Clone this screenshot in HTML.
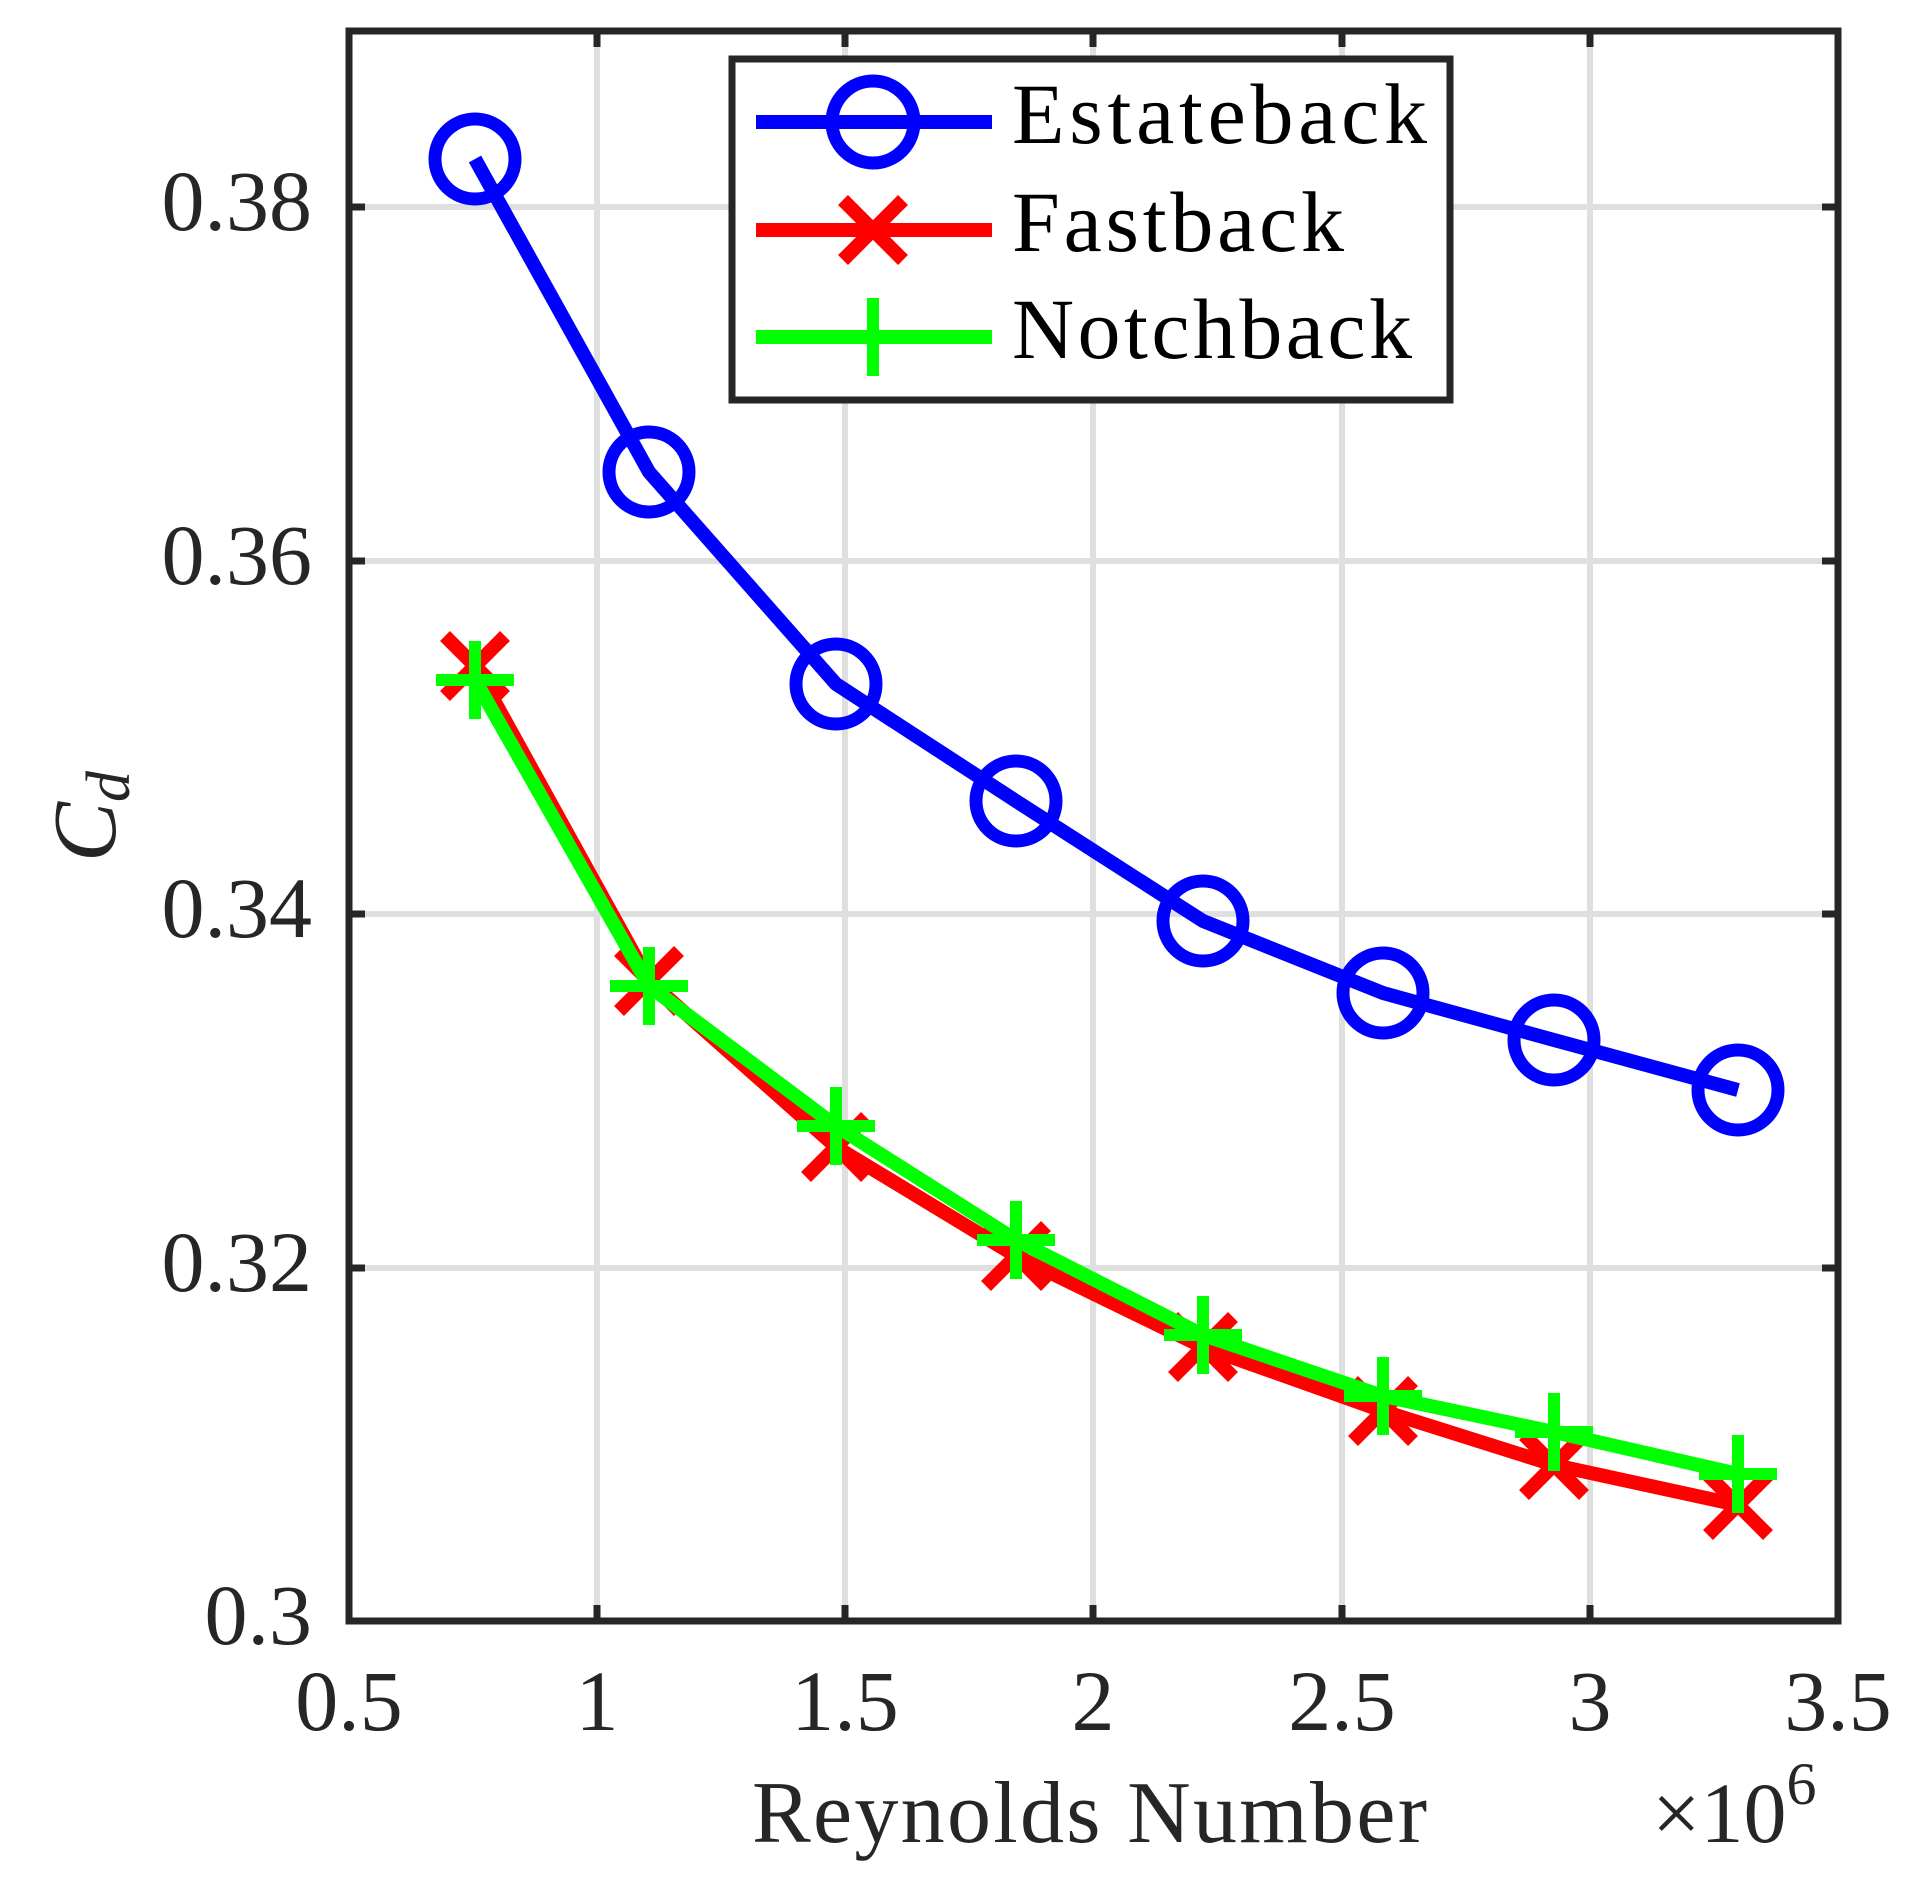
<!DOCTYPE html>
<html><head><meta charset="utf-8"><style>html,body{margin:0;padding:0;background:#fff}svg{display:block}</style></head>
<body>
<svg width="1919" height="1901" viewBox="0 0 1919 1901" xmlns="http://www.w3.org/2000/svg" font-family="Liberation Serif, serif" fill="#262626">
<defs>
<g id="cx"><path d="M-30,-30L30,30M-30,30L30,-30" stroke="#ff0000" stroke-width="14" fill="none"/></g>
<g id="pl"><path d="M-39,0H39M0,-39V39" stroke="#00ff00" stroke-width="12" fill="none"/></g>
</defs>
<g stroke="#dfdfdf" stroke-width="6">
<path d="M597,31V1621M845,31V1621M1093,31V1621M1342,31V1621M1590,31V1621"/>
<path d="M349,207H1838M349,561H1838M349,914H1838M349,1268H1838"/>
</g>
<g stroke="#262626" stroke-width="7" fill="none">
<rect x="349" y="31" width="1489" height="1590"/>
<path d="M597,1621v-16M845,1621v-16M1093,1621v-16M1342,1621v-16M1590,1621v-16M597,31v16M845,31v16M1093,31v16M1342,31v16M1590,31v16"/>
<path d="M349,207h16M349,561h16M349,914h16M349,1268h16M1838,207h-16M1838,561h-16M1838,914h-16M1838,1268h-16"/>
</g>
<g font-size="86" text-anchor="end">
<text x="312" y="230">0.38</text>
<text x="312" y="584">0.36</text>
<text x="312" y="937">0.34</text>
<text x="312" y="1291">0.32</text>
<text x="312" y="1644">0.3</text>
</g>
<g font-size="86" text-anchor="middle">
<text x="349" y="1730">0.5</text>
<text x="597" y="1730">1</text>
<text x="845" y="1730">1.5</text>
<text x="1093" y="1730">2</text>
<text x="1342" y="1730">2.5</text>
<text x="1590" y="1730">3</text>
<text x="1838" y="1730">3.5</text>
</g>
<text x="752" y="1842" font-size="88" textLength="675">Reynolds Number</text>
<text x="1652" y="1842" font-size="86">×10<tspan font-size="60" dy="-38">6</tspan></text>
<text transform="translate(115,862) rotate(-90)" font-size="90" font-style="italic">C<tspan font-size="62" dy="14">d</tspan></text>
<polyline fill="none" stroke="#ff0000" stroke-width="14" stroke-linejoin="round" points="475,666 649,981 836,1147 1016,1256 1203,1347 1383,1411 1554,1465 1738,1505"/>
<g><use href="#cx" x="475" y="666"/><use href="#cx" x="649" y="981"/><use href="#cx" x="836" y="1147"/><use href="#cx" x="1016" y="1256"/><use href="#cx" x="1203" y="1347"/><use href="#cx" x="1383" y="1411"/><use href="#cx" x="1554" y="1465"/><use href="#cx" x="1738" y="1505"/></g>
<polyline fill="none" stroke="#00ff00" stroke-width="14" stroke-linejoin="round" points="475,680 649,986 836,1126 1016,1240 1203,1335 1383,1396 1554,1432 1738,1474"/>
<g><use href="#pl" x="475" y="680"/><use href="#pl" x="649" y="986"/><use href="#pl" x="836" y="1126"/><use href="#pl" x="1016" y="1240"/><use href="#pl" x="1203" y="1335"/><use href="#pl" x="1383" y="1396"/><use href="#pl" x="1554" y="1432"/><use href="#pl" x="1738" y="1474"/></g>
<polyline fill="none" stroke="#0000ff" stroke-width="14" stroke-linejoin="round" points="475,159 649,472 836,684 1016,801 1203,921 1383,993 1554,1040 1738,1090"/>
<g fill="none" stroke="#0000ff" stroke-width="13">
<circle cx="475" cy="159" r="40"/><circle cx="649" cy="472" r="40"/><circle cx="836" cy="684" r="40"/><circle cx="1016" cy="801" r="40"/><circle cx="1203" cy="921" r="40"/><circle cx="1383" cy="993" r="40"/><circle cx="1554" cy="1040" r="40"/><circle cx="1738" cy="1090" r="40"/>
</g>
<rect x="732" y="59" width="718" height="341" fill="#fff" stroke="#262626" stroke-width="7"/>
<path d="M756,122H992" stroke="#0000ff" stroke-width="14"/>
<circle cx="873" cy="122" r="41" fill="none" stroke="#0000ff" stroke-width="13"/>
<path d="M756,230H992" stroke="#ff0000" stroke-width="14"/>
<use href="#cx" x="873" y="230"/>
<path d="M756,337H992" stroke="#00ff00" stroke-width="14"/>
<use href="#pl" x="873" y="337"/>
<g font-size="86" fill="#000">
<text x="1012" y="143" textLength="415">Estateback</text>
<text x="1012" y="251" textLength="332">Fastback</text>
<text x="1012" y="358" textLength="400">Notchback</text>
</g>
</svg>
</body></html>
